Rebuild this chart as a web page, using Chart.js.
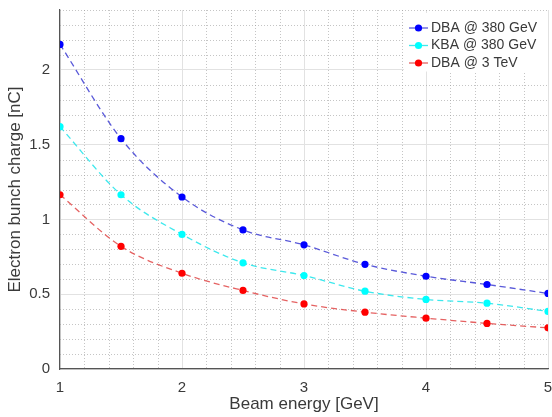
<!DOCTYPE html>
<html>
<head>
<meta charset="utf-8">
<script src="https://cdn.jsdelivr.net/npm/chart.js@4"></script>
<style>
    html, body { margin: 0; padding: 0; background: #fff; }
    #wrap { width: 552px; height: 417px; }
</style>
</head>
<body>
<div id="wrap"><canvas id="chart" width="552" height="417"></canvas></div>
<script>
// ===== データ =====
const beamEnergy = [1, 1.5, 2, 2.5, 3, 3.5, 4, 4.5, 5];
const dba380 = [2.17, 1.54, 1.15, 0.93, 0.83, 0.70, 0.62, 0.565, 0.505];
const kba380 = [1.62, 1.165, 0.90, 0.71, 0.625, 0.52, 0.465, 0.44, 0.385];
const dba3tev = [1.165, 0.82, 0.64, 0.525, 0.435, 0.38, 0.34, 0.305, 0.275];
const seriesLabels = ['DBA @ 380 GeV', 'KBA @ 380 GeV', 'DBA @ 3 TeV'];
const xTicks = [1, 2, 3, 4, 5];
const yTicks = [0, 0.5, 1, 1.5, 2];

const markerColors = ['#0000ff', '#00ffff', '#ff0000'];
const lineColors = ['rgba(60,60,210,0.85)', 'rgba(40,230,235,0.9)', 'rgba(225,70,70,0.85)'];
const textColor = '#3a3a3a';
const fontFamily = '"Liberation Sans", Arial, sans-serif';

function makeDataset(i, values) {
    return {
        label: seriesLabels[i],
        data: beamEnergy.map((x, k) => ({ x: x, y: values[k] })),
        borderColor: lineColors[i],
        backgroundColor: markerColors[i],
        pointBackgroundColor: markerColors[i],
        pointBorderColor: markerColors[i],
        pointRadius: 3.6,
        pointBorderWidth: 0,
        borderWidth: 1.3,
        borderDash: [6, 4],
        tension: 0.3,
        cubicInterpolationMode: 'monotone'
    };
}

// ===== 補助グリッド (点線) =====
const minorGrid = {
    id: 'minorGrid',
    beforeDatasetsDraw(chart) {
        const { ctx, chartArea, scales } = chart;
        ctx.save();
        ctx.strokeStyle = 'rgba(150,150,150,0.55)';
        ctx.lineWidth = 1;
        ctx.setLineDash([1, 2]);
        for (let v = 1.2; v < 5; v += 0.2) {
            if (Math.abs(v - Math.round(v)) < 1e-6) continue;
            const px = Math.round(scales.x.getPixelForValue(v)) + 0.5;
            ctx.beginPath();
            ctx.moveTo(px, chartArea.top);
            ctx.lineTo(px, chartArea.bottom);
            ctx.stroke();
        }
        for (let v = 0.1; v < 2.41; v += 0.1) {
            if (Math.abs(v * 2 - Math.round(v * 2)) < 1e-6) continue;
            const py = Math.round(scales.y.getPixelForValue(v)) + 0.5;
            ctx.beginPath();
            ctx.moveTo(chartArea.left, py);
            ctx.lineTo(chartArea.right, py);
            ctx.stroke();
        }
        ctx.restore();
    }
};

// ===== 凡例 (グラフ内右上) =====
const insideLegend = {
    id: 'insideLegend',
    afterDatasetsDraw(chart) {
        const { ctx, chartArea } = chart;
        const left = 404, top = 13, width = chartArea.right - 404, rowH = 17.5;
        ctx.save();
        ctx.fillStyle = '#fff';
        ctx.fillRect(left, top, width, rowH * 3 + 6);
        ctx.font = '14px ' + fontFamily;
        ctx.textBaseline = 'middle';
        chart.data.datasets.forEach((ds, i) => {
            const y = top + 15 + i * rowH;
            ctx.strokeStyle = lineColors[i];
            ctx.lineWidth = 1.3;
            ctx.setLineDash([]);
            ctx.beginPath();
            ctx.moveTo(409, y);
            ctx.lineTo(428, y);
            ctx.stroke();
            ctx.fillStyle = markerColors[i];
            ctx.beginPath();
            ctx.arc(418.5, y, 3.6, 0, Math.PI * 2);
            ctx.fill();
            ctx.fillStyle = textColor;
            ctx.fillText(ds.label, 431, y);
        });
        ctx.restore();
    }
};

const ctx = document.getElementById('chart').getContext('2d');
new Chart(ctx, {
    type: 'line',
    data: {
        datasets: [
            makeDataset(0, dba380),
            makeDataset(1, kba380),
            makeDataset(2, dba3tev)
        ]
    },
    options: {
        responsive: false,
        animation: false,
        layout: { padding: { top: 10, right: 4, left: 0, bottom: 0 } },
        plugins: {
            legend: { display: false },
            tooltip: { enabled: false }
        },
        scales: {
            x: {
                type: 'linear',
                min: 1,
                max: 5,
                afterBuildTicks: scale => { scale.ticks = xTicks.map(v => ({ value: v })); },
                afterFit: scale => {
                    scale.height = 48;
                    scale.paddingLeft = 0;
                    scale.paddingRight = 0;
                },
                grid: { color: '#e2e2e2', lineWidth: 1, drawTicks: false },
                border: { color: '#555', width: 1.2 },
                ticks: {
                    color: textColor,
                    padding: 10,
                    maxRotation: 0,
                    font: { size: 15, family: fontFamily }
                },
                title: {
                    display: true,
                    text: 'Beam energy [GeV]',
                    color: textColor,
                    padding: { top: 0, bottom: 2 },
                    font: { size: 17, family: fontFamily }
                }
            },
            y: {
                min: 0,
                max: 2.4,
                afterBuildTicks: scale => { scale.ticks = yTicks.map(v => ({ value: v })); },
                afterFit: scale => {
                    scale.width = 60;
                    scale.paddingTop = 0;
                    scale.paddingBottom = 0;
                },
                grid: { color: '#e2e2e2', lineWidth: 1, drawTicks: false },
                border: { color: '#555', width: 1.2 },
                ticks: {
                    color: textColor,
                    padding: 10,
                    callback: v => String(v),
                    font: { size: 15, family: fontFamily }
                },
                title: {
                    display: true,
                    text: 'Electron bunch charge [nC]',
                    color: textColor,
                    padding: { top: 5, bottom: 0 },
                    font: { size: 17, family: fontFamily }
                }
            }
        }
    },
    plugins: [minorGrid, insideLegend]
});
</script>
</body>
</html>
